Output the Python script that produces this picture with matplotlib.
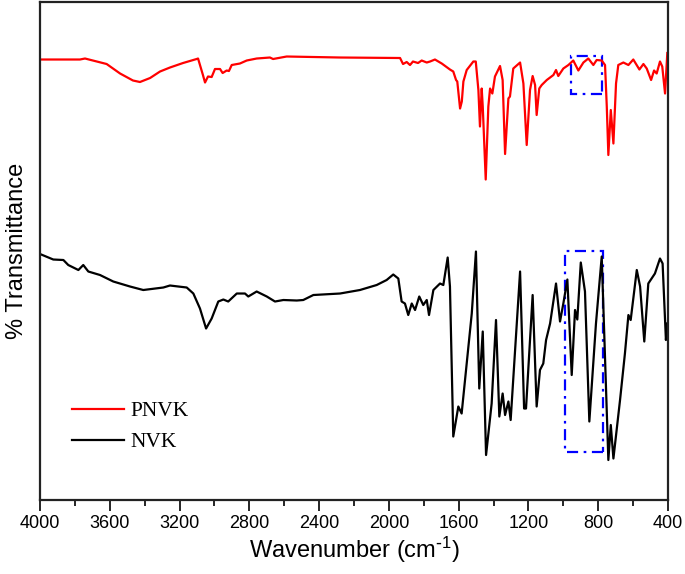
import matplotlib
matplotlib.use('Agg')
import matplotlib.pyplot as plt
from matplotlib.patches import Rectangle

# FTIR spectra (arbitrary %T scale)
pnvk_wn = [4000, 3771, 3742, 3618, 3541, 3467, 3427, 3369, 3312, 3255, 3180, 3102,
           3094, 3066, 3054, 3037, 3016, 2997, 2968, 2953, 2930, 2917, 2901, 2854,
           2815, 2758, 2682, 2664, 2586, 2280, 1936, 1919, 1898, 1879, 1862, 1833,
           1812, 1783, 1764, 1736, 1697, 1650, 1631, 1615, 1608, 1592, 1582, 1573,
           1554, 1516, 1502, 1487, 1478, 1468, 1462, 1445, 1430, 1420, 1407, 1392,
           1363, 1348, 1334, 1315, 1306, 1287, 1248, 1229, 1210, 1191, 1176, 1162,
           1153, 1138, 1124, 1095, 1057, 1042, 1029, 1000, 971, 943, 914, 885, 857,
           828, 809, 780, 761, 751, 742, 728, 713, 698, 685, 656, 627, 599, 564,
           541, 522, 497, 480, 465, 446, 433, 417, 404]
pnvk_t = [88.1, 88.1, 88.3, 87.2, 85.3, 83.9, 83.6, 84.4, 85.7, 86.5, 87.4, 88.2,
          88.3, 85.0, 83.5, 84.7, 84.6, 86.2, 86.2, 85.4, 85.9, 85.8, 87.0, 87.3,
          87.9, 88.3, 88.5, 88.2, 88.7, 88.5, 88.4, 87.2, 87.6, 87.0, 87.7, 87.4,
          87.9, 87.5, 87.7, 88.1, 87.3, 86.1, 85.7, 84.0, 83.7, 78.3, 79.7, 83.7,
          86.0, 87.7, 87.7, 82.0, 74.7, 82.3, 78.7, 64.1, 78.7, 82.3, 81.3, 84.7,
          86.8, 84.0, 69.2, 80.3, 80.7, 86.3, 87.5, 83.3, 71.0, 82.0, 84.8, 83.0,
          77.0, 82.3, 83.0, 84.0, 85.0, 86.0, 84.8, 86.3, 87.0, 87.9, 85.9, 87.5, 88.3,
          87.0, 88.0, 87.9, 87.0, 78.7, 69.0, 78.0, 71.3, 83.3, 87.0, 87.5, 87.0, 88.1, 86.1,
          87.2, 86.3, 84.0, 85.9, 85.3, 87.7, 86.7, 81.3, 89.4]

nvk_wn = [4000, 3924, 3866, 3838, 3780, 3752, 3723, 3656, 3580, 3484, 3408, 3293,
          3255, 3159, 3121, 3083, 3048, 3016, 2978, 2949, 2921, 2872, 2825, 2806,
          2758, 2700, 2653, 2605, 2528, 2491, 2433, 2280, 2166, 2070, 2013, 1975,
          1946, 1927, 1908, 1889, 1869, 1850, 1826, 1803, 1783, 1770, 1745, 1707,
          1688, 1663, 1650, 1631, 1602, 1583, 1554, 1525, 1501, 1482, 1462, 1443,
          1411, 1386, 1367, 1348, 1334, 1315, 1302, 1248, 1225, 1214, 1176, 1153,
          1134, 1115, 1099, 1076, 1042, 1019, 1000, 977, 952, 933, 920, 900, 876,
          851, 813, 780, 742, 728, 713, 675, 647, 627, 614, 579, 560, 536, 513,
          475, 446, 431, 412, 404]
nvk_t = [49.2, 48.1, 48.0, 47.0, 46.0, 47.0, 45.7, 45.0, 43.7, 42.7, 42.0, 42.5,
         42.9, 42.5, 41.3, 38.3, 34.3, 36.3, 39.7, 40.1, 39.7, 41.3, 41.3, 40.7,
         41.7, 40.7, 39.7, 40.0, 39.9, 40.0, 41.0, 41.3, 42.0, 43.0, 44.0, 45.1,
         44.3, 39.7, 39.3, 37.0, 39.3, 38.0, 40.7, 39.0, 40.0, 37.0, 42.0, 43.3,
         43.0, 48.5, 42.7, 12.7, 18.7, 17.3, 27.3, 37.3, 49.7, 22.3, 33.7, 9.0,
         19.3, 36.0, 16.7, 21.3, 17.0, 19.7, 16.0, 45.7, 18.3, 18.3, 41.0, 18.7,
         26.0, 27.3, 32.0, 35.3, 43.3, 35.7, 39.3, 44.1, 25.0, 38.0, 36.1, 47.5, 41.7,
         15.7, 35.3, 48.7, 8.0, 15.0, 8.3, 20.0, 29.3, 37.0, 36.0, 46.0, 42.7, 31.7, 43.3,
         45.3, 48.3, 47.3, 32.0, 35.3]

# highlighted regions (wavenumber range, %T range)
box_wn = [(956, 780), (990, 774)]
box_t = [(81.3, 88.9), (9.7, 49.8)]

plt.rcParams['mathtext.default'] = 'regular'

fig = plt.figure(figsize=(6.85, 5.74), dpi=100)
ax = fig.add_axes([0.0584, 0.1289, 0.9168, 0.8676])

ax.plot(pnvk_wn, pnvk_t, color='#ff0000', lw=1.6, label='PNVK')
ax.plot(nvk_wn, nvk_t, color='black', lw=1.6, label='NVK')

for (w1, w2), (t1, t2) in zip(box_wn, box_t):
    ax.add_patch(Rectangle((w2, t1), w1 - w2, t2 - t1, fill=False,
                           edgecolor='#0000ff', lw=1.6,
                           linestyle=(0, (5, 2.5, 1.2, 2.5))))

ax.set_xlim(4000, 400)
ax.set_ylim(0, 99.6)
ax.set_xticks(range(400, 4001, 400))
ax.set_xticks(range(400, 4001, 200), minor=True)
ax.set_yticks([])
ax.tick_params(axis='x', which='major', direction='out', length=8, width=1.2,
               pad=3, labelsize=13)
ax.tick_params(axis='x', which='minor', direction='out', length=4.5, width=1.2)
for lab in ax.get_xticklabels():
    lab.set_fontfamily('Liberation Sans')
for sp in ax.spines.values():
    sp.set_linewidth(1.6)
    sp.set_color('#222222')

ax.set_xlabel(r'Wavenumber (cm$^{\text{-}1}$)', fontsize=17, family='Liberation Sans', labelpad=2)
ax.set_ylabel('% Transmittance', fontsize=17, family='Liberation Sans', labelpad=9)

ax.legend(loc='upper left', bbox_to_anchor=(0.051, 0.198), frameon=False,
          prop={'family': 'Liberation Serif', 'size': 15.5},
          handlelength=2.4, handletextpad=0.3, labelspacing=0.5,
          borderpad=0, borderaxespad=0)

plt.savefig('out.png', dpi=100)
plt.close()
